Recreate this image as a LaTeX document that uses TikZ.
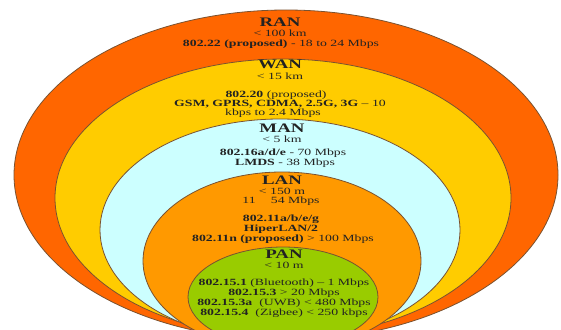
\documentclass[tikz,border=0pt]{standalone}
\usepackage{fontspec}
\setmainfont{Liberation Serif}
\definecolor{ranc}{HTML}{FF6600}
\definecolor{wanc}{HTML}{FFCC00}
\definecolor{manc}{HTML}{CCFFFF}
\definecolor{lanc}{HTML}{FF9900}
\definecolor{panc}{HTML}{99CC00}
\definecolor{edgec}{HTML}{7A5230}
\definecolor{txtc}{HTML}{222222}
\newcommand\wtxt[1]{\scalebox{1.45}[1]{#1}}
\tikzset{
  zone/.style={draw=edgec, line width=0.8pt},
  head/.style={inner sep=0pt, text=txtc, font=\bfseries\fontsize{13}{14}\selectfont},
  info/.style={inner sep=0pt, text=txtc, font=\fontsize{9.5}{10}\selectfont},
}
\begin{document}
\begin{tikzpicture}[x=1pt,y=-1pt]
\useasboundingbox (0,0) rectangle (561,329);
\clip (0,0) rectangle (561,329);
\fill[white] (0,0) rectangle (561,329);
\draw[zone, fill=ranc] (286,175) ellipse [x radius=272pt, y radius=165pt];
\draw[zone, fill=wanc] (283,198) ellipse [x radius=228pt, y radius=139pt];
\draw[zone, fill=manc] (280,230) ellipse [x radius=180pt, y radius=111pt];
\draw[zone, fill=lanc] (282,261) ellipse [x radius=139pt, y radius=89pt];
\draw[zone, fill=panc] (283,297) ellipse [x radius=95pt, y radius=50pt];
% RAN
\node[head] (ran) at (280,22) {\wtxt{RAN}};
\node[info] (ran1) at (280,33) {\wtxt{< 100 km}};
\node[info] (ran2) at (281,44) {\wtxt{\textbf{802.22 (proposed)} - 18 to 24 Mbps}};
% WAN
\node[head] (wan) at (280,64) {\wtxt{WAN}};
\node[info] (wan1) at (280,76) {\wtxt{< 15 km}};
\node[info] (wan2) at (276,95) {\wtxt{\textbf{802.20} (proposed)}};
\node[info] (wan3) at (280,104) {\wtxt{\textbf{GSM, GPRS, CDMA, 2.5G, 3G} -- 10}};
\node[info] (wan4) at (273,113) {\wtxt{kbps to 2.4 Mbps}};
% MAN
\node[head] (man) at (282,128) {\wtxt{MAN}};
\node[info] (man1) at (282,139) {\wtxt{< 5 km}};
\node[info] (man2) at (283,153) {\wtxt{\textbf{802.16a/d/e} - 70 Mbps}};
\node[info] (man3) at (285,163) {\wtxt{\textbf{LMDS} - 38 Mbps}};
% LAN
\node[head] (lan) at (282,180) {\wtxt{LAN}};
\node[info] (lan1) at (282,191) {\wtxt{< 150 m}};
\node[info] (lan2) at (281,201) {\wtxt{11\hspace{1.1em}54 Mbps}};
\node[info] (lan3) at (281,219) {\wtxt{\textbf{802.11a/b/e/g}}};
\node[info] (lan4) at (281,229) {\wtxt{\textbf{HiperLAN/2}}};
\node[info] (lan5) at (283,239) {\wtxt{\textbf{802.11n (proposed)} > 100 Mbps}};
% PAN
\node[head] (pan) at (284,254) {\wtxt{PAN}};
\node[info] (pan1) at (284,265) {\wtxt{< 10 m}};
\node[info] (pan2) at (284,283) {\wtxt{\textbf{802.15.1} (Bluetooth) -- 1 Mbps}};
\node[info] (pan3) at (284,293) {\wtxt{\textbf{802.15.3} > 20 Mbps}};
\node[info] (pan4) at (284,303) {\wtxt{\textbf{802.15.3a}\hspace{0.5em}(UWB) < 480 Mbps}};
\node[info] (pan5) at (284,313) {\wtxt{\textbf{802.15.4}\hspace{0.5em}(Zigbee) < 250 kbps}};
\end{tikzpicture}
\end{document}
